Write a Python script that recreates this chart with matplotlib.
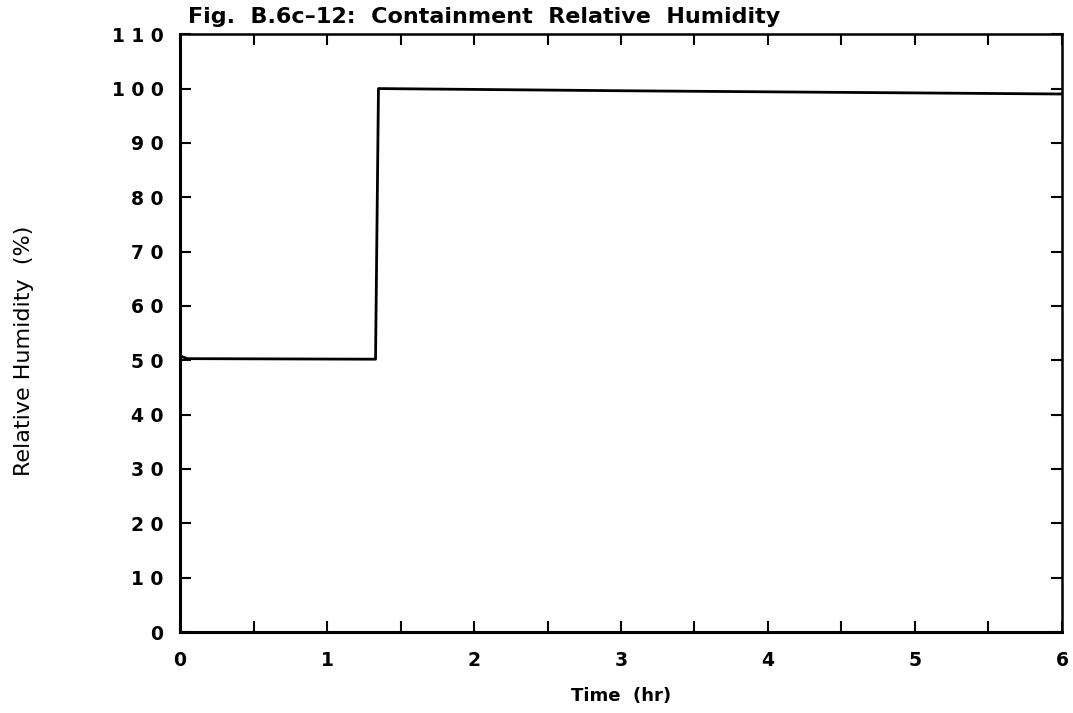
import matplotlib
matplotlib.use("Agg")
import matplotlib.pyplot as plt
from matplotlib.ticker import FuncFormatter, MultipleLocator

# humidity trace
time_hr = [0.0, 0.05, 1.33, 1.35, 3.0, 6.0]
rh_pct = [50.8, 50.3, 50.2, 100.0, 99.6, 99.0]

x_ticks = [0, 1, 2, 3, 4, 5, 6]
y_ticks = list(range(0, 111, 10))

fig = plt.figure(figsize=(10.73, 7.13), dpi=100)
ax = fig.add_axes([0.1678, 0.1136, 0.8219, 0.8384])

ax.plot(time_hr, rh_pct, color="black", linewidth=2.0)

ax.set_xlim(0, 6)
ax.set_ylim(0, 110)
ax.set_xticks(x_ticks)
ax.set_yticks(y_ticks)
ax.xaxis.set_minor_locator(MultipleLocator(0.5))
ax.yaxis.set_major_formatter(FuncFormatter(lambda v, p: " ".join(str(int(v)))))

ax.tick_params(axis="both", which="both", direction="in", top=True, right=True,
               width=1.5, color="black")
ax.tick_params(axis="both", which="major", length=8, labelsize=13.5)
ax.tick_params(axis="x", which="major", pad=14)
ax.tick_params(axis="y", which="major", pad=12)
ax.tick_params(axis="x", which="minor", length=8)
for lab in ax.get_xticklabels() + ax.get_yticklabels():
    lab.set_fontweight("bold")

for side in ["left", "bottom"]:
    ax.spines[side].set_linewidth(2.2)
for side in ["top", "right"]:
    ax.spines[side].set_linewidth(1.8)

ax.set_xlabel("Time  (hr)", fontsize=13, fontweight="bold", labelpad=12)
ax.set_ylabel("Relative Humidity  (%)", fontsize=16)
ax.yaxis.set_label_coords(-0.166, 0.47)
fig.text(0.175, 0.962, "Fig.  B.6c\u201312:  Containment  Relative  Humidity",
         fontsize=16, fontweight="bold", ha="left", va="bottom")

fig.savefig("out.png", dpi=100, facecolor="white")
